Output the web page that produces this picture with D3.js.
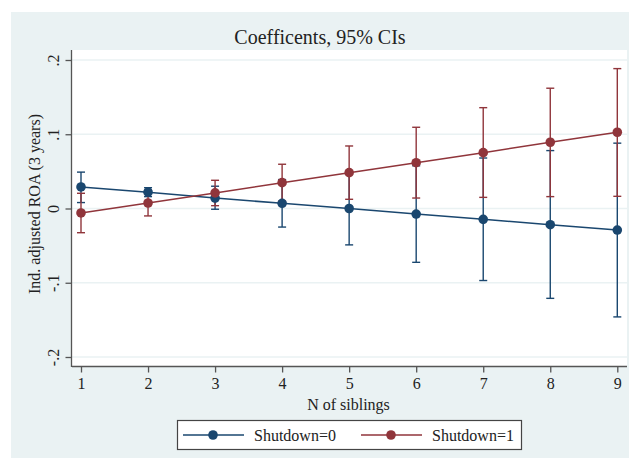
<!DOCTYPE html>
<html>
<head>
<meta charset="utf-8">
<script src="https://cdn.jsdelivr.net/npm/d3@7"></script>
<style>
  body { margin: 0; background: #fff; }
  text { font-family: "Liberation Serif", "Times New Roman", serif; fill: #222; }
</style>
</head>
<body>
<div id="viz"></div>
<script>
// values
var nSiblings = [1, 2, 3, 4, 5, 6, 7, 8, 9];
var est0 = [0.029, 0.022, 0.014, 0.007, 0.000, -0.0075, -0.0146, -0.0218, -0.029];
var lo0  = [0.008, 0.016, -0.001, -0.025, -0.049, -0.0725, -0.097, -0.121, -0.146];
var hi0  = [0.049, 0.028, 0.030, 0.039, 0.049, 0.0575, 0.068, 0.078, 0.088];
var est1 = [-0.006, 0.0074, 0.021, 0.0348, 0.0483, 0.0617, 0.0752, 0.0892, 0.1027];
var lo1  = [-0.0326, -0.010, 0.0038, 0.010, 0.0124, 0.0141, 0.015, 0.016, 0.0164];
var hi1  = [0.0205, 0.025, 0.038, 0.0596, 0.0842, 0.1094, 0.1358, 0.162, 0.1884];
var yTicks = [-0.2, -0.1, 0, 0.1, 0.2];
var yTickLabels = ['-.2', '-.1', '0', '.1', '.2'];
var seriesNames = ['Shutdown=0', 'Shutdown=1'];
var seriesColors = ['#1a476f', '#90353b'];

var width = 629, height = 459;
var plot = { left: 72, right: 627, top: 50, bottom: 367 };

var svg = d3.select('#viz').append('svg')
  .attr('width', width)
  .attr('height', height);

// outer graph region
svg.append('rect')
  .attr('x', 11).attr('y', 12)
  .attr('width', width - 11).attr('height', 446)
  .attr('fill', '#eaf2f3');

svg.append('rect')
  .attr('x', plot.left).attr('y', plot.top)
  .attr('width', plot.right - plot.left).attr('height', plot.bottom - plot.top)
  .attr('fill', '#fff');

var xScale = d3.scaleLinear().domain([1, 9]).range([81, 617.3]);
var yScale = d3.scaleLinear().domain([-0.2, 0.2]).range([357, 60]);

// gridlines
svg.append('g').selectAll('line').data(yTicks)
  .enter().append('line')
  .attr('x1', plot.left).attr('x2', plot.right)
  .attr('y1', function(d) { return yScale(d); })
  .attr('y2', function(d) { return yScale(d); })
  .attr('stroke', '#eaf2f3')
  .attr('stroke-width', 1.5);

// axes
var yAxis = d3.axisLeft(yScale)
  .tickValues(yTicks)
  .tickFormat(function(d, i) { return yTickLabels[i]; })
  .tickSize(6);
var yGuide = svg.append('g')
  .attr('transform', 'translate(' + (plot.left - 0.5) + ',0)')
  .call(yAxis);
yGuide.select('.domain').attr('d', 'M0,' + plot.top + 'V' + plot.bottom);
yGuide.selectAll('.tick text')
  .attr('x', 0).attr('y', 0).attr('dy', '0.35em')
  .attr('transform', 'translate(-18,0) rotate(-90)')
  .attr('text-anchor', 'middle')
  .style('font-size', '16px');

var xAxis = d3.axisBottom(xScale)
  .tickValues(nSiblings)
  .tickFormat(d3.format('d'))
  .tickSize(6)
  .tickPadding(5);
var xGuide = svg.append('g')
  .attr('transform', 'translate(0,' + (plot.bottom - 0.5) + ')')
  .call(xAxis);
xGuide.select('.domain').attr('d', 'M' + plot.left + ',0H' + plot.right);
xGuide.selectAll('text').style('font-size', '16px');

svg.selectAll('.domain, .tick line')
  .attr('stroke', '#555')
  .attr('stroke-width', 1.3);
svg.selectAll('.tick text').attr('fill', '#222');

// titles
svg.append('text')
  .attr('x', 320).attr('y', 44)
  .attr('text-anchor', 'middle')
  .style('font-size', '20px')
  .attr('fill', '#1a2a40')
  .text('Coefficents, 95% CIs');

svg.append('text')
  .attr('x', plot.left + (plot.right - plot.left) / 2 - 1).attr('y', 410)
  .attr('text-anchor', 'middle')
  .style('font-size', '16px')
  .text('N of siblings');

svg.append('text')
  .attr('transform', 'translate(40,' + 204 + ') rotate(-90)')
  .attr('text-anchor', 'middle')
  .style('font-size', '16px')
  .text('Ind. adjusted ROA (3 years)');

// series
var series = [
  nSiblings.map(function(n, i) { return { n: n, est: est0[i], lo: lo0[i], hi: hi0[i] }; }),
  nSiblings.map(function(n, i) { return { n: n, est: est1[i], lo: lo1[i], hi: hi1[i] }; })
];

var capW = 4;
series.forEach(function(s, k) {
  var g = svg.append('g').attr('stroke', seriesColors[k]).attr('stroke-width', 1.4);
  g.selectAll('line.ci').data(s).enter().append('line')
    .attr('x1', function(d) { return xScale(d.n); })
    .attr('x2', function(d) { return xScale(d.n); })
    .attr('y1', function(d) { return yScale(d.lo); })
    .attr('y2', function(d) { return yScale(d.hi); });
  g.selectAll('line.capHi').data(s).enter().append('line')
    .attr('x1', function(d) { return xScale(d.n) - capW; })
    .attr('x2', function(d) { return xScale(d.n) + capW; })
    .attr('y1', function(d) { return yScale(d.hi); })
    .attr('y2', function(d) { return yScale(d.hi); });
  g.selectAll('line.capLo').data(s).enter().append('line')
    .attr('x1', function(d) { return xScale(d.n) - capW; })
    .attr('x2', function(d) { return xScale(d.n) + capW; })
    .attr('y1', function(d) { return yScale(d.lo); })
    .attr('y2', function(d) { return yScale(d.lo); });
});

var line = d3.line()
  .x(function(d) { return xScale(d.n); })
  .y(function(d) { return yScale(d.est); });

series.forEach(function(s, k) {
  svg.append('path')
    .datum(s)
    .attr('d', line)
    .attr('fill', 'none')
    .attr('stroke', seriesColors[k])
    .attr('stroke-width', 1.5);
  svg.append('g').selectAll('circle').data(s)
    .enter().append('circle')
    .attr('cx', function(d) { return xScale(d.n); })
    .attr('cy', function(d) { return yScale(d.est); })
    .attr('r', 4.8)
    .attr('fill', seriesColors[k]);
});

// legend
var legend = svg.append('g');
legend.append('rect')
  .attr('x', 177.5).attr('y', 420.5)
  .attr('width', 344).attr('height', 29)
  .attr('fill', '#fff')
  .attr('stroke', '#444')
  .attr('stroke-width', 1.2);

var legX = [183, 361];
seriesNames.forEach(function(name, k) {
  var lg = legend.append('g').attr('transform', 'translate(' + legX[k] + ',435)');
  lg.append('line')
    .attr('x1', 0).attr('x2', 61)
    .attr('stroke', seriesColors[k]).attr('stroke-width', 1.5);
  lg.append('circle')
    .attr('cx', 30).attr('r', 4.8)
    .attr('fill', seriesColors[k]);
  lg.append('text')
    .attr('x', 71).attr('dy', '0.35em')
    .style('font-size', '16px')
    .text(name);
});
</script>
</body>
</html>
